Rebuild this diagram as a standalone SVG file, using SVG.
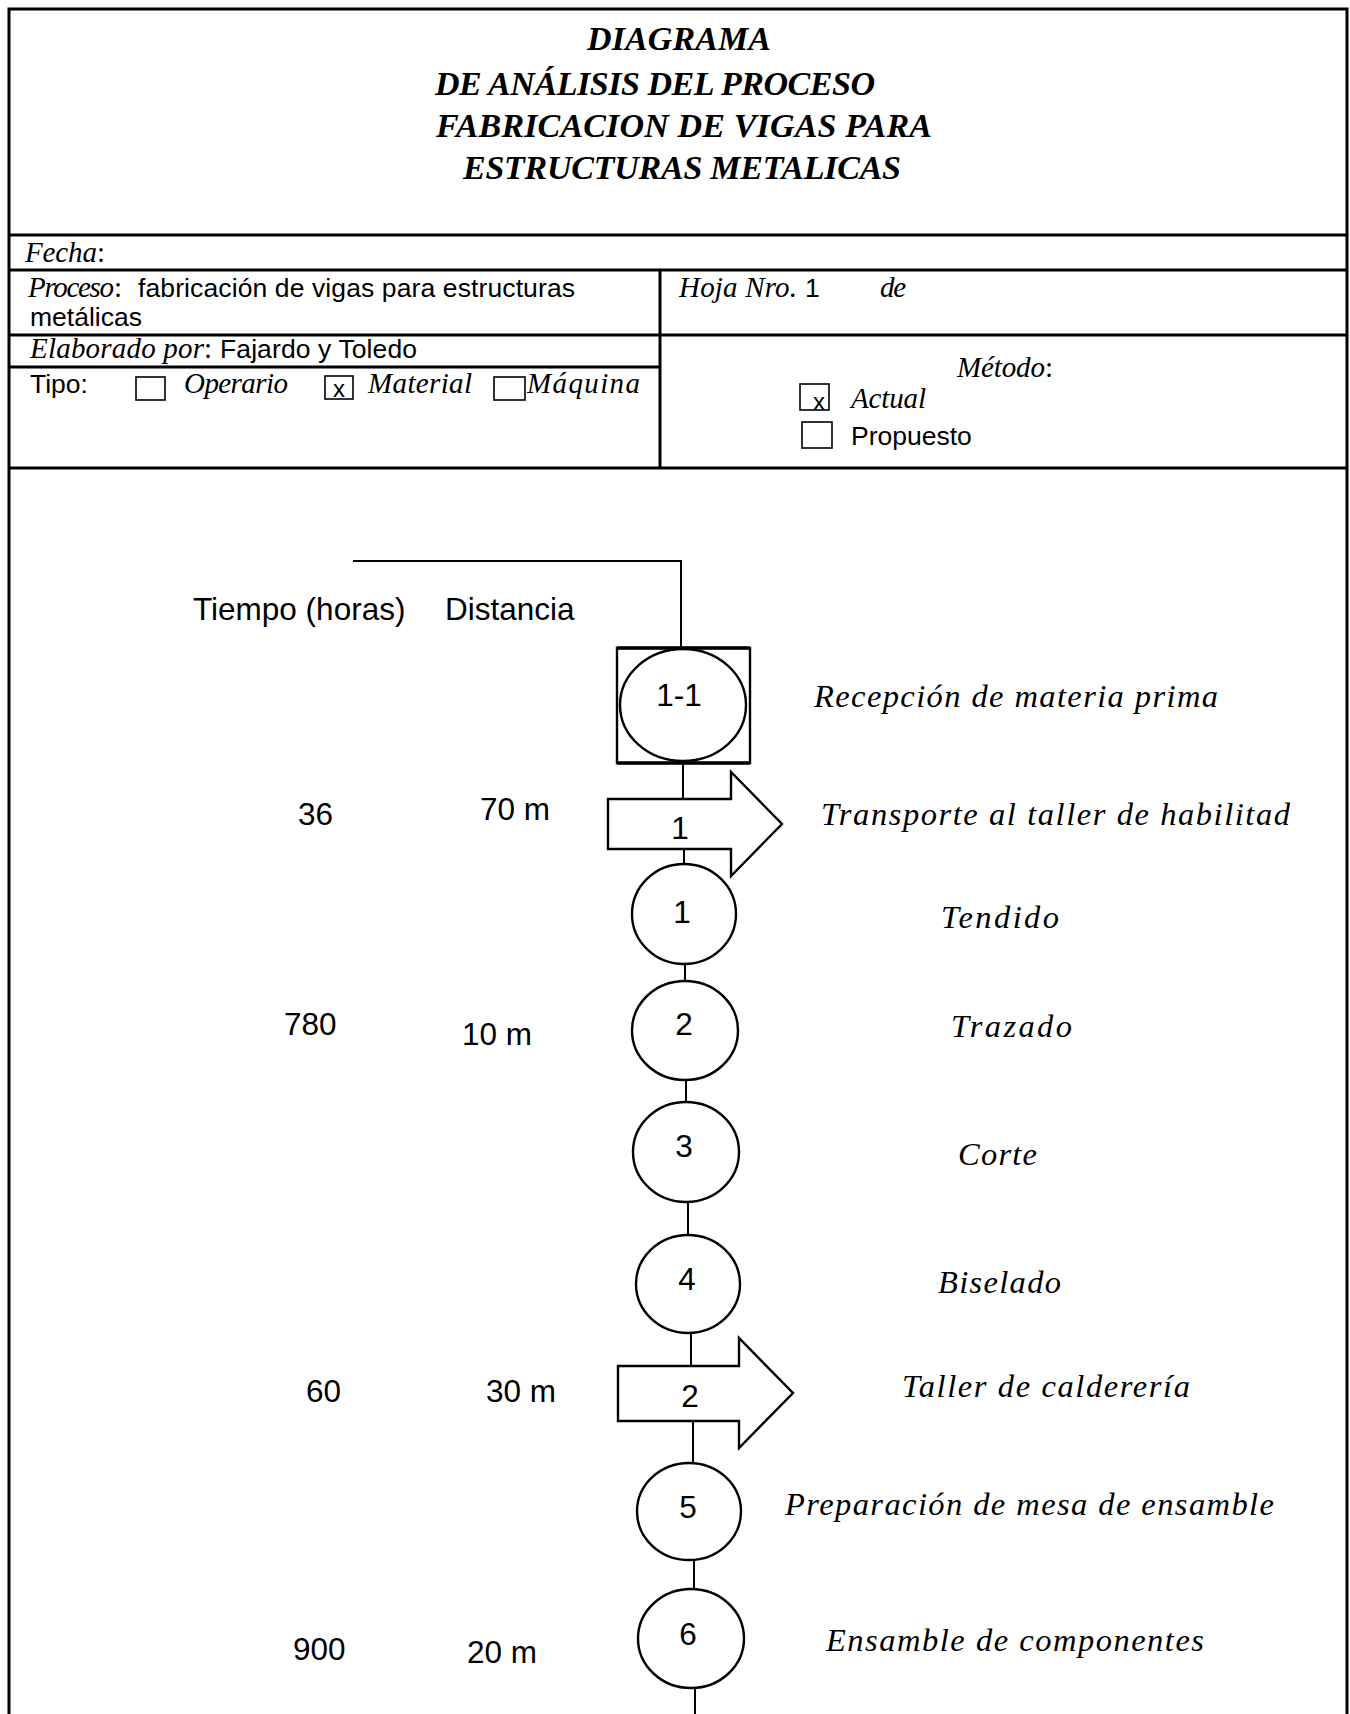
<svg xmlns="http://www.w3.org/2000/svg" width="1350" height="1714" viewBox="0 0 1350 1714">
<style>
.frame{fill:none;stroke:#000;stroke-width:3}
.thin{fill:none;stroke:#000;stroke-width:1.6}
.shape{fill:#fff;stroke:#000;stroke-width:2.4}
.conn{fill:none;stroke:#000;stroke-width:2}
.ar{font-family:"Liberation Sans",Arial,sans-serif;fill:#000}
.it{font-family:"Liberation Serif","DejaVu Serif",serif;font-style:italic;fill:#000}
.rm{font-family:"Liberation Serif","DejaVu Serif",serif;fill:#000}
.ti{font-family:"Liberation Serif","DejaVu Serif",serif;font-style:italic;font-weight:bold;font-size:34px;fill:#000}
.h{font-size:29px}
.ha{font-size:26.5px}
.b{font-size:31.5px}
.bi{font-size:32.5px}
</style>
<rect width="1350" height="1714" fill="#fff"/>
<g id="header">
  <path class="frame" d="M9,1714 V9 H1347 V1714"/>
  <path class="frame" d="M9,235 H1347 M9,270 H1347 M9,335 H1347 M9,367 H660 M9,468 H1347 M660,270 V468"/>
  <g id="title">
    <text class="ti" x="587" y="50" textLength="184">DIAGRAMA</text>
    <text class="ti" x="435" y="95" textLength="440">DE ANÁLISIS DEL PROCESO</text>
    <text class="ti" x="436" y="137" textLength="496">FABRICACION DE VIGAS PARA</text>
    <text class="ti" x="463" y="179" textLength="438">ESTRUCTURAS METALICAS</text>
  </g>
  <g id="fecha">
    <text class="it h" x="25" y="262" textLength="72">Fecha</text>
    <text class="rm h" x="97" y="262">:</text>
  </g>
  <g id="proceso">
    <text class="it h" x="28" y="297" textLength="86">Proceso</text>
    <text class="rm h" x="114" y="297">:</text>
    <text class="ar ha" x="138" y="297" textLength="437">fabricación de vigas para estructuras</text>
    <text class="ar ha" x="30" y="326">metálicas</text>
  </g>
  <g id="hoja">
    <text class="it h" x="679" y="297" textLength="118">Hoja Nro.</text>
    <text class="ar ha" x="805" y="297">1</text>
    <text class="it h" x="880" y="297" textLength="26">de</text>
  </g>
  <g id="elaborado">
    <text class="it h" x="30" y="358" textLength="174">Elaborado por</text>
    <text class="rm h" x="204" y="358">:</text>
    <text class="ar ha" x="220" y="358" textLength="197">Fajardo y Toledo</text>
  </g>
  <g id="tipo">
    <text class="ar ha" x="30" y="393">Tipo:</text>
    <rect class="thin" x="136" y="377" width="29" height="23"/>
    <text class="it h" x="184" y="393" textLength="104">Operario</text>
    <rect class="thin" x="325" y="376" width="28" height="23"/>
    <text class="ar" font-size="24" x="333" y="397">x</text>
    <text class="it h" x="368" y="393" textLength="104">Material</text>
    <rect class="thin" x="494" y="377" width="31" height="23"/>
    <text class="it h" x="527" y="393" textLength="113">Máquina</text>
  </g>
  <g id="metodo">
    <text class="it h" x="957" y="377" textLength="88">Método</text>
    <text class="rm h" x="1045" y="377">:</text>
    <rect class="thin" x="800" y="384" width="29" height="26"/>
    <text class="ar" font-size="24" x="813" y="410">x</text>
    <text class="it h" x="851" y="408" textLength="75">Actual</text>
    <rect class="thin" x="802" y="422" width="30" height="26"/>
    <text class="ar ha" x="851" y="445">Propuesto</text>
  </g>
</g>
<g id="columns">
  <text class="ar b" x="193" y="620">Tiempo (horas)</text>
  <text class="ar b" x="445" y="620">Distancia</text>
</g>
<g id="connectors">
  <path class="conn" d="M353,561 H681 V648" stroke-width="2.6"/>
  <line class="conn" x1="683" y1="763" x2="683" y2="799"/>
  <line class="conn" x1="684" y1="849" x2="684" y2="865"/>
  <line class="conn" x1="685" y1="963" x2="685" y2="981"/>
  <line class="conn" x1="686" y1="1080" x2="686" y2="1102"/>
  <line class="conn" x1="688" y1="1202" x2="688" y2="1235"/>
  <line class="conn" x1="691" y1="1333" x2="691" y2="1366"/>
  <line class="conn" x1="693" y1="1421" x2="693" y2="1463"/>
  <line class="conn" x1="694" y1="1560" x2="694" y2="1589"/>
  <line class="conn" x1="695" y1="1688" x2="695" y2="1714"/>
</g>
<g id="node-1-1">
  <rect class="shape" x="617" y="648" width="133" height="115"/>
  <path d="M617,648 H750 M617,763 H750" stroke="#000" stroke-width="3.4" fill="none"/>
  <ellipse class="shape" cx="683" cy="705" rx="63" ry="56"/>
  <text class="ar b" x="679" y="706" text-anchor="middle">1-1</text>
  <text class="it bi" x="814" y="707" textLength="404">Recepción de materia prima</text>
</g>
<g id="node-t1">
  <polygon class="shape" points="608,799 731,799 731,772 782,824 731,876 731,849 608,849"/>
  <text class="ar b" x="680" y="839" text-anchor="middle">1</text>
  <text class="ar b" x="298" y="825">36</text>
  <text class="ar b" x="480" y="820">70 m</text>
  <text class="it bi" x="821" y="825" textLength="469">Transporte al taller de habilitad</text>
</g>
<g id="node-1">
  <ellipse class="shape" cx="684" cy="914" rx="52" ry="50"/>
  <text class="ar b" x="682" y="923" text-anchor="middle">1</text>
  <text class="it bi" x="941" y="928" textLength="118">Tendido</text>
</g>
<g id="node-2">
  <ellipse class="shape" cx="685" cy="1030.5" rx="53" ry="49.5"/>
  <text class="ar b" x="684" y="1035" text-anchor="middle">2</text>
  <text class="ar b" x="284" y="1035">780</text>
  <text class="ar b" x="462" y="1045">10 m</text>
  <text class="it bi" x="951" y="1037" textLength="121">Trazado</text>
</g>
<g id="node-3">
  <ellipse class="shape" cx="686" cy="1152" rx="53" ry="50"/>
  <text class="ar b" x="684" y="1157" text-anchor="middle">3</text>
  <text class="it bi" x="958" y="1165" textLength="79">Corte</text>
</g>
<g id="node-4">
  <ellipse class="shape" cx="688" cy="1284" rx="52" ry="49"/>
  <text class="ar b" x="687" y="1290" text-anchor="middle">4</text>
  <text class="it bi" x="938" y="1293" textLength="123">Biselado</text>
</g>
<g id="node-t2">
  <polygon class="shape" points="618,1366 739,1366 739,1338 793,1393 739,1448 739,1421 618,1421"/>
  <text class="ar b" x="690" y="1407" text-anchor="middle">2</text>
  <text class="ar b" x="306" y="1402">60</text>
  <text class="ar b" x="486" y="1402">30 m</text>
  <text class="it bi" x="902" y="1397" textLength="288">Taller de calderería</text>
</g>
<g id="node-5">
  <ellipse class="shape" cx="689" cy="1511.5" rx="52" ry="48.5"/>
  <text class="ar b" x="688" y="1518" text-anchor="middle">5</text>
  <text class="it bi" x="785" y="1515" textLength="489">Preparación de mesa de ensamble</text>
</g>
<g id="node-6">
  <ellipse class="shape" cx="691" cy="1638.5" rx="53" ry="49.5"/>
  <text class="ar b" x="688" y="1645" text-anchor="middle">6</text>
  <text class="ar b" x="293" y="1660">900</text>
  <text class="ar b" x="467" y="1663">20 m</text>
  <text class="it bi" x="826" y="1651" textLength="378">Ensamble de componentes</text>
</g>
</svg>
